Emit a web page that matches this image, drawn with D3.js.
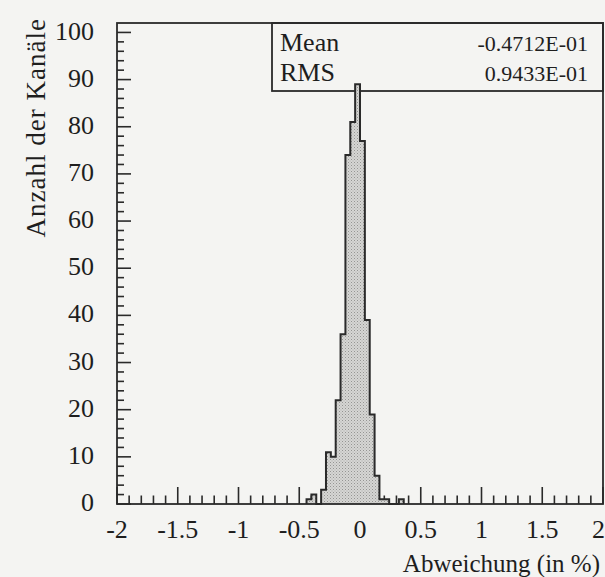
<!DOCTYPE html>
<html><head><meta charset="utf-8">
<script src="https://cdn.jsdelivr.net/npm/d3@7"></script>
<style>
html,body{margin:0;padding:0;background:#f4f4f2;}
svg{display:block;}
text{font-family:"Liberation Serif","Times New Roman",serif;fill:#1e1e1e;}
</style></head>
<body>
<svg id="chart" width="605" height="577"></svg>
<script>
// Histogram bins (lower edge, width 0.04) and counts
const binLow = [-0.44,-0.40,-0.36,-0.32,-0.28,-0.24,-0.20,-0.16,-0.12,-0.08,-0.04,0.00,0.04,0.08,0.12,0.16,0.20,0.24,0.28,0.32];
const counts = [1,2,0,3,11,10,22,36,74,81,89,77,39,19,6,1,1,0,0,1];
const binWidth = 0.04;
const xTickLabels = ["-2","-1.5","-1","-0.5","0","0.5","1","1.5","2"];
const xTickValues = [-2,-1.5,-1,-0.5,0,0.5,1,1.5,2];
const yTickValues = [0,10,20,30,40,50,60,70,80,90,100];
const statNames = ["Mean","RMS"];
const statValues = ["-0.4712E-01","0.9433E-01"];

const svg = d3.select("#chart");
const L=117, R=603, T=23, B=504;
const x = d3.scaleLinear().domain([-2,2]).range([L,R]);
const y = d3.scaleLinear().domain([0,102]).range([B,T]);
const FS = 26;

// stipple pattern
const defs = svg.append("defs");
const pat = defs.append("pattern").attr("id","stip").attr("width",3).attr("height",3).attr("patternUnits","userSpaceOnUse");
pat.append("rect").attr("width",3).attr("height",3).attr("fill","#d6d6d4");
pat.append("rect").attr("x",0).attr("y",0).attr("width",1).attr("height",1).attr("fill","#959593");
pat.append("rect").attr("x",1.5).attr("y",1.5).attr("width",1).attr("height",1).attr("fill","#aaaaa8");

// stats box (drawn first; the histogram spike overlaps it)
svg.append("rect").attr("x",272).attr("y",T).attr("width",R-272).attr("height",91-T)
  .attr("fill","none").attr("stroke","#2a2a2a").attr("stroke-width",1.8);
statNames.forEach((n,i)=>{
  svg.append("text").attr("x",280).attr("y",51+i*30).attr("font-size",FS).text(n);
  svg.append("text").attr("x",588).attr("y",51+i*30).attr("text-anchor","end").attr("font-size",22).text(statValues[i]);
});

// x ticks (inward)
const xMinor = d3.range(-20,21).map(d=>d/10);
svg.append("g").selectAll("line").data(xMinor).join("line")
  .attr("x1",d=>x(d)).attr("x2",d=>x(d))
  .attr("y1",B).attr("y2",d=>Math.abs(d*2-Math.round(d*2))<1e-6 ? B-17 : B-8.5)
  .attr("stroke","#2a2a2a").attr("stroke-width",1.6);
// y ticks (inward)
const yMinor = d3.range(0,51).map(d=>d*2);
svg.append("g").selectAll("line").data(yMinor).join("line")
  .attr("y1",d=>y(d)).attr("y2",d=>y(d))
  .attr("x1",L).attr("x2",d=>d%10===0 ? L+14 : L+7)
  .attr("stroke","#2a2a2a").attr("stroke-width",1.6);

// histogram path (step)
const pts = [];
pts.push([x(binLow[0]), y(0)]);
binLow.forEach((b,i)=>{
  pts.push([x(b), y(counts[i])]);
  pts.push([x(b+binWidth), y(counts[i])]);
});
pts.push([x(binLow[binLow.length-1]+binWidth), y(0)]);
const line = d3.line();
svg.append("path").attr("d", line(pts)+"Z").attr("fill","url(#stip)").attr("stroke","none");
svg.append("path").attr("d", line(pts)).attr("fill","none").attr("stroke","#2a2a2a").attr("stroke-width",2).attr("stroke-linejoin","miter");

// frame
svg.append("rect").attr("x",L).attr("y",T).attr("width",R-L).attr("height",B-T)
  .attr("fill","none").attr("stroke","#2a2a2a").attr("stroke-width",1.8);

// tick labels
svg.append("g").selectAll("text").data(xTickValues).join("text")
  .attr("x",d=>d===2 ? 605 : x(d)).attr("y",538).attr("text-anchor",d=>d===2?"end":"middle")
  .attr("font-size",FS).text((d,i)=>xTickLabels[i]);
svg.append("g").selectAll("text").data(yTickValues).join("text")
  .attr("x",94).attr("y",d=>y(d)-2).attr("dy","0.35em").attr("text-anchor","end")
  .attr("font-size",FS).text(d=>d);

// axis titles
svg.append("text").attr("x",600).attr("y",572).attr("text-anchor","end")
  .attr("font-size",25).text("Abweichung (in %)");
svg.append("text").attr("transform","translate(45,18) rotate(-90)").attr("text-anchor","end")
  .attr("font-size",27).attr("letter-spacing",1).text("Anzahl der Kanäle");
</script>
</body></html>
